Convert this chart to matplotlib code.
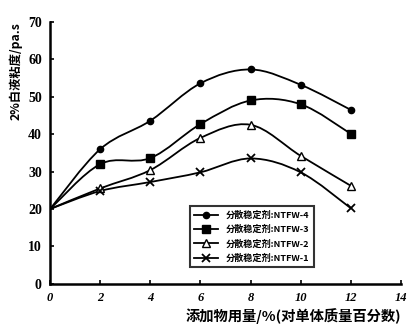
import matplotlib
matplotlib.use("Agg")
import matplotlib.pyplot as plt
from matplotlib.path import Path
from matplotlib.patches import PathPatch
import numpy as np

plt.rcParams['font.family'] = ['Noto Sans CJK SC', 'DejaVu Sans']

x_vals = [0, 2, 4, 6, 8, 10, 12]
ntfw4 = [20, 36.0, 43.6, 53.6, 57.3, 53.2, 46.5]
ntfw3 = [20, 32.0, 33.6, 42.7, 49.0, 48.0, 40.1]
ntfw2 = [20, 25.5, 30.4, 39.0, 42.5, 34.2, 26.2]
ntfw1 = [20, 24.8, 27.2, 29.8, 33.5, 29.8, 20.2]
labels = ["分散稳定剂:NTFW-4", "分散稳定剂:NTFW-3",
          "分散稳定剂:NTFW-2", "分散稳定剂:NTFW-1"]
x_ticks = [0, 2, 4, 6, 8, 10, 12, 14]
y_ticks = [0, 10, 20, 30, 40, 50, 60, 70]


def smooth_path(xs, ys):
    # catmull-rom through the points, drawn as cubic bezier segments
    pts = np.column_stack([xs, ys]).astype(float)
    verts = [pts[0]]
    codes = [Path.MOVETO]
    n = len(pts)
    for i in range(n - 1):
        p0 = pts[i - 1] if i > 0 else pts[i]
        p1 = pts[i]
        p2 = pts[i + 1]
        p3 = pts[i + 2] if i + 2 < n else pts[i + 1]
        c1 = p1 + (p2 - p0) / 6.0
        c2 = p2 - (p3 - p1) / 6.0
        verts += [c1, c2, p2]
        codes += [Path.CURVE4] * 3
    return Path(verts, codes)


fig = plt.figure(figsize=(4.18, 3.33), dpi=100)
ax = fig.add_axes([0.12, 0.148, 0.839, 0.786])

series = [
    (ntfw4, dict(marker="o", ms=4.5, mfc="black")),
    (ntfw3, dict(marker="s", ms=5.5, mfc="black")),
    (ntfw2, dict(marker="^", ms=6, mfc="white")),
    (ntfw1, dict(marker="x", ms=6, mew=1.3)),
]
for (ys, style), lab in zip(series, labels):
    ax.add_patch(PathPatch(smooth_path(x_vals, ys), fc="none", ec="black", lw=1.3))
    ax.plot(x_vals[1:], ys[1:], ls="none", color="black", mec="black", **style)
    ax.plot([], [], color="black", lw=1.3, label=lab, mec="black", **style)

ax.set_xlim(0, 14)
ax.set_ylim(0, 70)
ax.set_xticks(x_ticks)
ax.set_yticks(y_ticks)
ax.set_xticklabels([str(t) for t in x_ticks], fontfamily="Liberation Serif",
                   fontweight="bold", fontstyle="italic", fontsize=9)
ax.set_yticklabels([str(t) for t in y_ticks], fontfamily="Liberation Serif",
                   fontweight="bold", fontsize=10)
ax.tick_params(direction="in", length=3, width=1.2, pad=6)
for side in ["top", "right"]:
    ax.spines[side].set_visible(False)
for side in ["left", "bottom"]:
    ax.spines[side].set_linewidth(1.8)

ax.set_xlabel("添加物用量/%(对单体质量百分数)", fontsize=10.3, fontweight="bold",
              loc="right", labelpad=3)
ax.set_ylabel("2%白液粘度/pa.s", fontsize=8.8, fontweight="bold", loc="top",
              labelpad=4)

leg = ax.legend(loc="lower left", bbox_to_anchor=(0.385, 0.045),
                frameon=True, fancybox=False, edgecolor="black",
                handlelength=2.6, borderpad=0.5, labelspacing=0.55,
                prop={'weight': 'bold', 'size': 6.6})
leg.get_frame().set_linewidth(1.5)

fig.savefig("out.png", dpi=100)
